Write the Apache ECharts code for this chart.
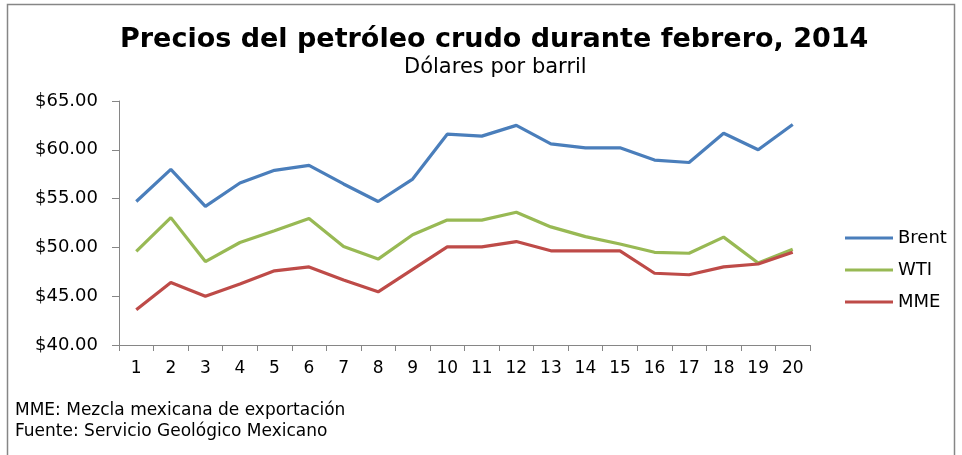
<!DOCTYPE html>
<html>
<head>
<meta charset="utf-8">
<script src="https://cdn.jsdelivr.net/npm/echarts@6/dist/echarts.min.js"></script>
<style>
    html, body {margin:0; padding:0; background:#fff;}
    #main {width:962px; height:455px;}
</style>
</head>
<body>
<div id="main"></div>
<script>
// dias de febrero
var dias = ['1','2','3','4','5','6','7','8','9','10','11','12','13','14','15','16','17','18','19','20'];

var brent = [54.7, 58.0, 54.2, 56.6, 57.9, 58.4, 56.5, 54.7, 57.0, 61.6, 61.4, 62.5, 60.6, 60.2, 60.2, 58.95, 58.7, 61.7, 60.0, 62.6];
var wti   = [49.6, 53.05, 48.55, 50.5, 51.7, 52.95, 50.1, 48.8, 51.3, 52.8, 52.8, 53.6, 52.1, 51.1, 50.35, 49.5, 49.4, 51.05, 48.4, 49.8];
var mme   = [43.6, 46.4, 45.0, 46.25, 47.6, 48.0, 46.65, 45.45, 47.75, 50.05, 50.05, 50.6, 49.65, 49.65, 49.65, 47.35, 47.2, 48.0, 48.3, 49.5];

var fuente = '"DejaVu Sans", Verdana, sans-serif';

var linea = function (nombre, datos, color) {
    return {
        name: nombre,
        type: 'line',
        data: datos,
        symbol: 'none',
        lineStyle: {width: 3.2, color: color},
        itemStyle: {color: color},
        animation: false
    };
};

var option = {
    backgroundColor: '#fff',
    textStyle: {fontFamily: fuente, color: '#000'},
    title: [
        {
            text: 'Precios del petróleo crudo durante febrero, 2014',
            left: 115,
            top: 21,
            textStyle: {fontSize: 27, fontWeight: 'bold', color: '#000', fontFamily: fuente}
        },
        {
            text: 'Dólares por barril',
            left: 399,
            top: 52,
            textStyle: {fontSize: 21, fontWeight: 'normal', color: '#000', fontFamily: fuente}
        }
    ],
    legend: {
        orient: 'vertical',
        left: 845,
        top: 229,
        padding: 0,
        itemWidth: 48,
        itemHeight: 3,
        itemGap: 14,
        icon: 'rect',
        textStyle: {fontSize: 18, color: '#000', fontFamily: fuente},
        data: ['Brent', 'WTI', 'MME']
    },
    grid: {left: 119, right: 152, top: 101, bottom: 110},
    xAxis: {
        type: 'category',
        data: dias,
        boundaryGap: true,
        axisLine: {lineStyle: {color: '#868686', width: 1}},
        axisTick: {show: true, length: 6, lineStyle: {color: '#868686'}},
        axisLabel: {fontSize: 17, color: '#000', margin: 15}
    },
    yAxis: {
        type: 'value',
        min: 40,
        max: 65,
        interval: 5,
        axisLine: {show: true, lineStyle: {color: '#868686', width: 1}},
        axisTick: {show: true, length: 7, lineStyle: {color: '#868686'}},
        splitLine: {show: false},
        axisLabel: {
            fontSize: 18,
            color: '#000',
            margin: 21,
            formatter: function (v) { return '$' + v.toFixed(2); }
        }
    },
    graphic: [
        {
            type: 'rect',
            shape: {x: 7.5, y: 4.5, width: 947, height: 460},
            style: {fill: 'none', stroke: '#868686', lineWidth: 1.5}
        },
        {
            type: 'text',
            left: 15,
            top: 402,
            style: {text: 'MME: Mezcla mexicana de exportación', fontSize: 17, fill: '#000', fontFamily: fuente}
        },
        {
            type: 'text',
            left: 15,
            top: 423,
            style: {text: 'Fuente: Servicio Geológico Mexicano', fontSize: 17, fill: '#000', fontFamily: fuente}
        }
    ],
    series: [
        linea('Brent', brent, '#4a7ebb'),
        linea('WTI', wti, '#98b954'),
        linea('MME', mme, '#be4b48')
    ]
};

var myChart = echarts.init(document.getElementById('main'));
myChart.setOption(option);
</script>
</body>
</html>
